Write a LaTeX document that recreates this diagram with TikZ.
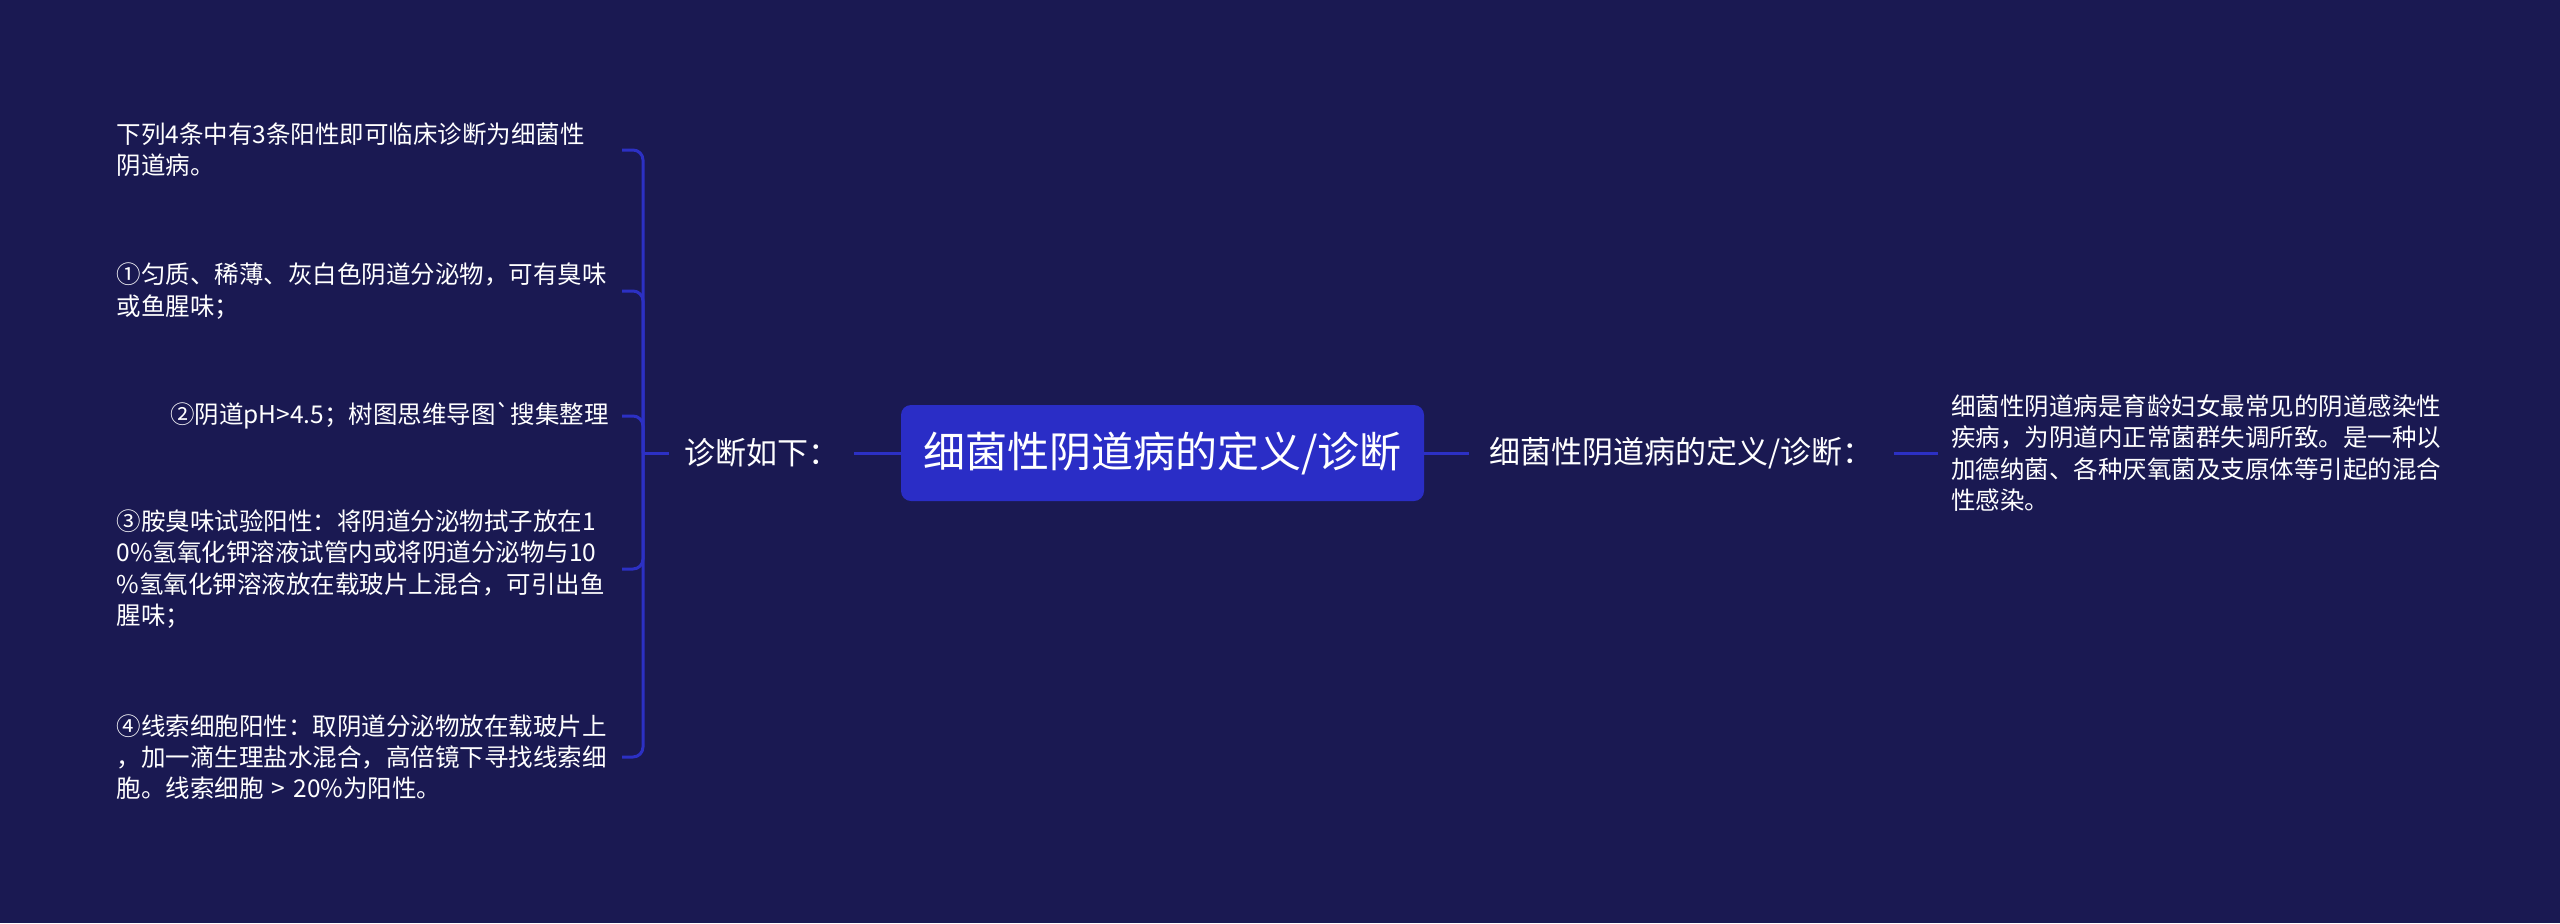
\documentclass[tikz,border=0pt]{standalone}
\usepackage{fontspec}
\newfontfamily\cjk{Noto Sans CJK SC}
\definecolor{bg}{HTML}{1A1952}
\definecolor{boxc}{HTML}{2A2DC6}
\definecolor{linec}{HTML}{2C30C4}
\begin{document}
\begin{tikzpicture}[x=0.5pt,y=-0.5pt, font=\cjk, text=white,
  conn/.style={draw=linec, line width=1.5pt},
  root/.style={fill=boxc, rounded corners=5pt, minimum width=261.5pt, minimum height=48pt, inner sep=0pt, font=\cjk\fontsize{21}{25}\selectfont},
  lvl/.style={inner sep=0pt, minimum height=20pt, font=\cjk\fontsize{15.5}{18.5}\selectfont},
  leaf/.style={inner xsep=6.5pt, inner ysep=2pt, align=left, font=\cjk\fontsize{12.25}{15.6}\selectfont},
  wide/.style={text width=246pt}]
\fill[bg] (0,0) rectangle (2560,923);
\useasboundingbox (0,0) rectangle (2560,923);

\node[root] (root) at (1162.5,453) {细菌性阴道病的定义/诊断};
\node[lvl, minimum width=92.5pt] (dx) at (761.5,453) {诊断如下：};
\node[lvl, minimum width=212.5pt] (def) at (1681.5,453) {细菌性阴道病的定义/诊断：};
\node[leaf, wide, anchor=west] (defd) at (1938,453) {细菌性阴道病是育龄妇女最常见的阴道感染性\\疾病，为阴道内正常菌群失调所致。是一种以\\加德纳菌、各种厌氧菌及支原体等引起的混合\\性感染。};

\node[leaf, wide, anchor=east] (n0) at (622,150) {下列4条中有3条阳性即可临床诊断为细菌性\\阴道病。};
\node[leaf, wide, anchor=east] (n1) at (622,291) {①匀质、稀薄、灰白色阴道分泌物，可有臭味\\或鱼腥味；};
\node[leaf, anchor=east] (n2) at (622,416) {②阴道pH>4.5；树图思维导图\symbol{96}搜集整理};
\node[leaf, wide, anchor=east] (n3) at (622,569) {③胺臭味试验阳性：将阴道分泌物拭子放在1\\0\%氢氧化钾溶液试管内或将阴道分泌物与10\\\%氢氧化钾溶液放在载玻片上混合，可引出鱼\\腥味；};
\node[leaf, wide, anchor=east] (n4) at (622,757) {④线索细胞阳性：取阴道分泌物放在载玻片上\\，加一滴生理盐水混合，高倍镜下寻找线索细\\胞。线索细胞 > 20\%为阳性。};

\coordinate (j) at (643,453);
\draw[conn] (root.west) -- (dx.east);
\draw[conn] (root.east) -- (def.west);
\draw[conn] (def.east) -- (defd.west);
\draw[conn] (dx.west) -- (j);
\foreach \n in {n0,n1,n2,n3,n4}
  \draw[conn, rounded corners=5pt] (j) |- (\n.east);
\end{tikzpicture}
\end{document}
